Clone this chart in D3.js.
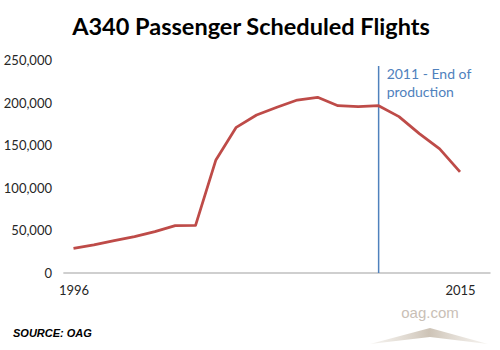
<!DOCTYPE html>
<html>
<head>
<meta charset="utf-8">
<script src="https://cdn.jsdelivr.net/npm/d3@7"></script>
<style>
  body { margin: 0; background: #fff; }
  svg { display: block; }
</style>
</head>
<body>
<div id="chart"></div>
<script>
// data
var years = [1996, 1997, 1998, 1999, 2000, 2001, 2002, 2003, 2004, 2005,
             2006, 2007, 2008, 2009, 2010, 2011, 2012, 2013, 2014, 2015];
var flights = [29000, 33000, 38000, 42700, 48600, 55700, 56000, 133000, 171400, 185900,
               195000, 203500, 206700, 196800, 195700, 196800, 184000, 164000, 146000, 119000];
var yTicks = [0, 50000, 100000, 150000, 200000, 250000];
var xTicks = [1996, 2015];
var endYear = 2011;
var title = "A340 Passenger Scheduled Flights";

var W = 500, H = 350;
var font = "Lato, 'Open Sans', sans-serif";

var svg = d3.select("#chart")
  .append("svg")
    .attr("width", W)
    .attr("height", H);

// scales
var x = d3.scaleLinear()
  .domain([1996, 2015])
  .range([73.5, 460]);

var y = d3.scaleLinear()
  .domain([0, 250000])
  .range([273, 60.5]);

// title
svg.append("text")
  .attr("x", 251)
  .attr("y", 35)
  .attr("text-anchor", "middle")
  .style("font-family", font)
  .style("font-size", "23.5px")
  .style("font-weight", "bold")
  .style("fill", "#000")
  .text(title);

// Y axis - labels only
var yAxis = svg.append("g")
  .attr("transform", "translate(52,0)")
  .call(d3.axisLeft(y).tickValues(yTicks).tickSize(0).tickPadding(0)
    .tickFormat(d3.format(",")));
yAxis.select(".domain").remove();
yAxis.selectAll("text")
  .style("font-family", font)
  .style("font-size", "13px")
  .style("fill", "#262626");

// X axis
var xAxis = svg.append("g")
  .attr("transform", "translate(0,273)")
  .call(d3.axisBottom(x).tickValues(xTicks).tickSize(0).tickPadding(13)
    .tickFormat(d3.format("d")));
xAxis.select(".domain").remove();
xAxis.selectAll("text")
  .style("font-family", font)
  .style("font-size", "13px")
  .style("fill", "#262626");

// axis line spans half a category before the first year and past the last
svg.append("line")
  .attr("x1", x(1995.5))
  .attr("x2", x(2016.5))
  .attr("y1", y(0))
  .attr("y2", y(0))
  .attr("stroke", "#bfbfbf")
  .attr("stroke-width", 1.5);

// end of production marker
svg.append("line")
  .attr("x1", x(endYear))
  .attr("x2", x(endYear))
  .attr("y1", 66)
  .attr("y2", y(0))
  .attr("stroke", "#4f81bd")
  .attr("stroke-width", 1.5);

var note = svg.append("text")
  .style("font-family", font)
  .style("font-size", "14px")
  .style("fill", "#4f81bd");
note.append("tspan").attr("x", x(endYear) + 8).attr("y", 79).text("2011 - End of");
note.append("tspan").attr("x", x(endYear) + 8).attr("y", 97).text("production");

// the series line
var line = d3.line()
  .x(function(d, i) { return x(years[i]); })
  .y(function(d) { return y(d); });

svg.append("path")
  .datum(flights)
  .attr("d", line)
  .attr("fill", "none")
  .attr("stroke", "#be4b48")
  .attr("stroke-width", 2.75)
  .attr("stroke-linejoin", "round");

// source note
svg.append("text")
  .attr("x", 13)
  .attr("y", 337)
  .style("font-family", "'Liberation Sans', Arial, sans-serif")
  .style("font-size", "11px")
  .style("font-style", "italic")
  .style("font-weight", "bold")
  .style("fill", "#000")
  .text("SOURCE: OAG");

// oag.com watermark
svg.append("text")
  .attr("x", 430)
  .attr("y", 318)
  .attr("text-anchor", "middle")
  .style("font-family", "'Liberation Sans', Arial, sans-serif")
  .style("font-size", "15px")
  .style("fill", "#c9c0b6")
  .text("oag.com");

var defs = svg.append("defs");
var grad = defs.append("linearGradient")
  .attr("id", "wedge")
  .attr("x1", "0").attr("x2", "1").attr("y1", "0").attr("y2", "0");
grad.append("stop").attr("offset", "0%").attr("stop-color", "#ebe6df").attr("stop-opacity", 0.5);
grad.append("stop").attr("offset", "50%").attr("stop-color", "#cdc3b6");
grad.append("stop").attr("offset", "100%").attr("stop-color", "#ebe6df").attr("stop-opacity", 0.5);

svg.append("path")
  .attr("d", "M370,344 L430,328 L488,344 L430,337 Z")
  .attr("fill", "url(#wedge)");
</script>
</body>
</html>
